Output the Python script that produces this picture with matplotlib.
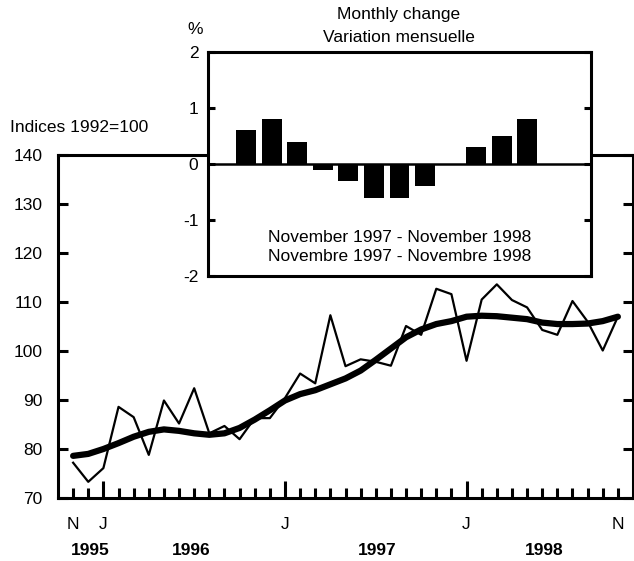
import numpy as np
import matplotlib
matplotlib.use("Agg")
import matplotlib.pyplot as plt

plt.rcParams['font.family'] = ['Liberation Sans', 'DejaVu Sans']

# monthly index, Nov 1995 - Nov 1998 (1992=100)
months = np.arange(37)
monthly = [77.2, 73.3, 76.1, 88.6, 86.5, 78.8, 89.9, 85.2, 92.4, 83.2,
           84.7, 82.0, 86.3, 86.3, 90.4, 95.4, 93.4, 107.3, 96.9, 98.3,
           97.8, 97.0, 105.1, 103.3, 112.7, 111.6, 98.0, 110.5, 113.6, 110.4,
           108.9, 104.3, 103.3, 110.2, 106.0, 100.1, 107.0]
trend = [78.6, 79.0, 80.0, 81.2, 82.5, 83.5, 84.0, 83.7, 83.2, 82.9,
         83.2, 84.3, 86.0, 87.9, 89.9, 91.2, 92.0, 93.2, 94.4, 96.0,
         98.2, 100.5, 102.8, 104.4, 105.5, 106.1, 107.0, 107.2, 107.1, 106.8,
         106.5, 105.8, 105.5, 105.5, 105.6, 106.1, 107.0]

month_letters = {0: "N", 2: "J", 14: "J", 26: "J", 36: "N"}
year_labels = ["1995", "1996", "1997", "1998"]
year_pos = [1.1, 7.8, 20.1, 31.1]

# inset: monthly change (%), Dec 1997 - Nov 1998
change_months = ["D", "J", "F", "M", "A", "M", "J", "J", "A", "S", "O", "N"]
change = [0.6, 0.8, 0.4, -0.1, -0.3, -0.6, -0.6, -0.4, 0.0, 0.3, 0.5, 0.8]

W, H = 634, 561
fig = plt.figure(figsize=(W / 100, H / 100), dpi=100)

# main chart
ax = fig.add_axes([58 / W, 1 - 498 / H, 575 / W, 343 / H])
ax.plot(months, monthly, color="black", lw=1.6, zorder=3)
ax.plot(months, trend, color="black", lw=4.5, solid_capstyle="round", zorder=2)
ax.set_xlim(-1, 37)
ax.set_ylim(70, 140)
ax.set_yticks(np.arange(70, 141, 10))
for s in ax.spines.values():
    s.set_linewidth(2.2)

jan = [2, 14, 26]
other = [m for m in months if m not in jan]
ax.set_xticks(jan, labels=["J"] * 3)
ax.set_xticks(other, minor=True,
              labels=[month_letters.get(m, "") for m in other])
ax.tick_params(axis="x", which="major", direction="in", length=12, width=2.2,
               pad=14, labelsize=12.5)
ax.tick_params(axis="x", which="minor", direction="in", length=7, width=2.2,
               pad=14, labelsize=12.5)
ax.tick_params(axis="y", direction="in", length=7, width=2.2, right=True,
               pad=11, labelsize=12.5)

for lab, xp in zip(year_labels, year_pos):
    ax.text(xp, -0.152, lab, transform=ax.get_xaxis_transform(),
            ha="center", va="center", fontsize=12.5, fontweight="bold")

fig.text(10 / W, 1 - 128 / H, "Indices 1992=100", ha="left", va="center",
         fontsize=12.5)

# inset bar chart
ins = fig.add_axes([208 / W, 1 - 276 / H, 383 / W, 224 / H])
ins.set_facecolor("white")
ins.bar(np.arange(len(change)), change, width=0.78, color="black")
ins.axhline(0, color="black", lw=1.8)
ins.set_xlim(-1.5, 13.5)
ins.set_ylim(-2, 2)
ins.set_xticks([])
ins.set_yticks([-2, -1, 0, 1, 2], labels=["-2", "-1", "0", "1", "2"])
ins.tick_params(axis="y", direction="in", length=5, width=2.2, right=True,
                pad=7, labelsize=12.5)
for s in ins.spines.values():
    s.set_linewidth(2.2)

ins.text(0.5, 0.174, "November 1997 - November 1998", transform=ins.transAxes,
         ha="center", va="center", fontsize=12.5)
ins.text(0.5, 0.085, "Novembre 1997 - Novembre 1998", transform=ins.transAxes,
         ha="center", va="center", fontsize=12.5)

fig.text(195 / W, 1 - 30 / H, "%", ha="center", va="center", fontsize=12.5)
fig.text(399 / W, 1 - 15 / H, "Monthly change", ha="center", va="center",
         fontsize=12.5)
fig.text(399 / W, 1 - 38 / H, "Variation mensuelle", ha="center", va="center",
         fontsize=12.5)

fig.savefig("out.png", dpi=100)
